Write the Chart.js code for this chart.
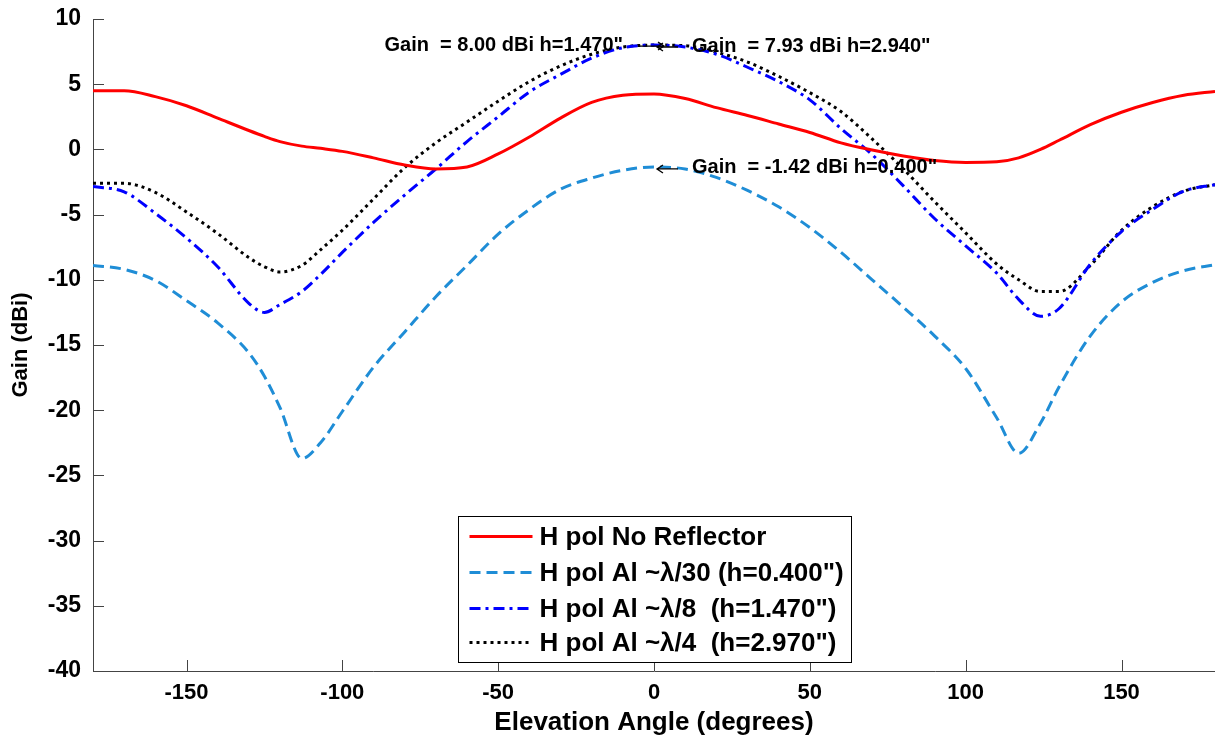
<!DOCTYPE html>
<html>
<head>
<meta charset="utf-8">
<title>Gain vs Elevation Angle</title>
<script src="https://cdn.jsdelivr.net/npm/chart.js@4/dist/chart.umd.min.js"></script>
<style>
  html, body { margin: 0; padding: 0; background: #fff; }
  #gainChart { display: block; }
</style>
</head>
<body>
<canvas id="gainChart" width="1215" height="740"></canvas>
<script>
// elevation angles (degrees) where the curves were read
const angles = [-180, -170, -160, -150, -140, -130, -125, -120, -113, -107, -100, -90,
    -80, -70, -60, -50, -40, -30, -20, -10, 0, 10, 20, 30, 40, 50, 60, 70, 80, 90,
    100, 110, 117, 124, 130, 140, 150, 160, 170, 180];

// gain in dBi for each series
const gainNoReflector = [4.5, 4.5, 4.05, 3.35, 2.4, 1.45, 1.0, 0.6, 0.25, 0.08, -0.15, -0.65,
    -1.2, -1.5, -1.35, -0.35, 0.95, 2.4, 3.6, 4.15, 4.25, 3.9, 3.2, 2.6, 1.95, 1.3, 0.5, -0.05, -0.5, -0.85,
    -1.0, -0.95, -0.65, 0.0, 0.7, 1.9, 2.85, 3.6, 4.15, 4.45];
const gainLambda30 = [-8.9, -9.2, -10.05, -11.6, -13.3, -15.6, -17.4, -19.8, -23.7, -22.5, -20.1, -16.7,
    -14.0, -11.3, -8.9, -6.5, -4.6, -3.05, -2.2, -1.6, -1.35, -1.5, -2.15, -3.15, -4.4, -6.0, -7.9, -10.0, -12.1, -14.3,
    -16.8, -20.6, -23.3, -21.0, -18.2, -14.3, -11.7, -10.2, -9.3, -8.85];
const gainLambda8 = [-2.85, -3.25, -4.9, -6.8, -9.0, -11.8, -12.5, -11.9, -10.9, -9.6, -7.9, -5.6,
    -3.5, -1.5, 0.6, 2.5, 4.4, 5.75, 7.0, 7.8, 8.0, 7.85, 7.3, 6.3, 5.2, 3.8, 1.6, -0.4, -2.8, -5.3,
    -7.4, -9.5, -11.5, -12.8, -12.2, -8.8, -6.3, -4.6, -3.2, -2.7];
const gainLambda4 = [-2.6, -2.6, -3.3, -4.8, -6.45, -8.3, -9.0, -9.4, -8.9, -7.7, -6.2, -3.8,
    -1.4, 0.5, 2.1, 3.7, 5.2, 6.4, 7.3, 7.85, 8.0, 7.95, 7.45, 6.7, 5.6, 4.35, 2.9, 0.8, -1.5, -4.0,
    -6.4, -8.8, -10.0, -10.9, -10.9, -8.9, -6.2, -4.4, -3.2, -2.7];

const seriesLabels = [
    'H pol No Reflector',
    'H pol Al ~λ/30 (h=0.400")',
    'H pol Al ~λ/8  (h=1.470")',
    'H pol Al ~λ/4  (h=2.970")'
];

const xTickValues = [-150, -100, -50, 0, 50, 100, 150];
const yTickValues = [-40, -35, -30, -25, -20, -15, -10, -5, 0, 5, 10];

// data tips placed on the plot
const tipAngles = [0, 0, 0];
const tipGains = [8.00, 7.93, -1.42];
const tipTexts = ['Gain  = 8.00 dBi h=1.470"', 'Gain  = 7.93 dBi h=2.940"', 'Gain  = -1.42 dBi h=0.400"'];
const tipSides = ['left', 'right', 'right'];

const FONT = '"Liberation Sans", Arial, Helvetica, sans-serif';
const AXIS_COLOR = '#444';

const styles = [
    { color: '#ff0000', dash: [] },
    { color: '#1f8dd6', dash: [11, 6] },
    { color: '#0000ff', dash: [11, 5, 3, 5] },
    { color: '#000000', dash: [3, 4] }
];

function toPoints(values) {
    return angles.map((a, i) => ({ x: a, y: values[i] }));
}

const allSeries = [gainNoReflector, gainLambda30, gainLambda8, gainLambda4];

const datasets = allSeries.map((vals, i) => ({
    label: seriesLabels[i],
    data: toPoints(vals),
    borderColor: styles[i].color,
    borderDash: styles[i].dash,
    borderWidth: 3,
    pointRadius: 0,
    fill: false,
    cubicInterpolationMode: 'monotone'
}));

function drawArrow(ctx, x0, x1, yy) {
    // thin arrow from x0 to the head at x1
    const dir = x1 > x0 ? 1 : -1;
    ctx.beginPath();
    ctx.moveTo(x0, yy);
    ctx.lineTo(x1, yy);
    ctx.moveTo(x1 - dir * 6, yy - 4);
    ctx.lineTo(x1, yy);
    ctx.lineTo(x1 - dir * 6, yy + 4);
    ctx.stroke();
}

const decorations = {
    id: 'decorations',
    afterDatasetsDraw(chart) {
        const { ctx, scales: { x, y } } = chart;
        ctx.save();
        ctx.fillStyle = '#000';
        ctx.strokeStyle = '#000';
        ctx.lineWidth = 1.3;
        ctx.setLineDash([]);
        ctx.textBaseline = 'middle';
        ctx.font = 'bold 20px ' + FONT;
        tipTexts.forEach((txt, i) => {
            const px = x.getPixelForValue(tipAngles[i]);
            const py = y.getPixelForValue(tipGains[i]);
            if (tipSides[i] === 'left') {
                ctx.textAlign = 'right';
                ctx.fillText(txt, px - 31, py);
                drawArrow(ctx, px - 14, px + 10, py + 1);
            } else {
                ctx.textAlign = 'left';
                ctx.fillText(txt, px + 38, py);
                drawArrow(ctx, px + 24, px + 3, py + 1);
            }
        });
        ctx.restore();
    },
    afterDraw(chart) {
        const { ctx, chartArea: a, scales: { x, y } } = chart;
        ctx.save();
        // inward tick marks
        ctx.strokeStyle = AXIS_COLOR;
        ctx.lineWidth = 1;
        ctx.setLineDash([]);
        x.ticks.forEach(t => {
            const px = Math.round(x.getPixelForValue(t.value)) + 0.5;
            ctx.beginPath();
            ctx.moveTo(px, a.bottom);
            ctx.lineTo(px, a.bottom - 11);
            ctx.stroke();
        });
        y.ticks.forEach(t => {
            const py = Math.round(y.getPixelForValue(t.value)) + 0.5;
            ctx.beginPath();
            ctx.moveTo(a.left, py);
            ctx.lineTo(a.left + 11, py);
            ctx.stroke();
        });

        // legend box
        const boxW = 393, boxH = 146;
        const bx = Math.round((a.left + a.right) / 2 - boxW / 2) + 0.5;
        const by = Math.round(a.bottom - 9 - boxH) + 0.5;
        ctx.fillStyle = '#fff';
        ctx.fillRect(bx, by, boxW, boxH);
        ctx.strokeStyle = '#000';
        ctx.strokeRect(bx, by, boxW, boxH);
        const rowY = [20, 56, 92, 126];
        ctx.font = 'bold 26px ' + FONT;
        ctx.textAlign = 'left';
        ctx.textBaseline = 'middle';
        seriesLabels.forEach((lbl, i) => {
            const ly = by + rowY[i];
            ctx.strokeStyle = styles[i].color;
            ctx.lineWidth = 3;
            ctx.setLineDash(styles[i].dash);
            ctx.beginPath();
            ctx.moveTo(bx + 11, ly);
            ctx.lineTo(bx + 74, ly);
            ctx.stroke();
            ctx.fillStyle = '#000';
            ctx.fillText(lbl, bx + 81, ly + 1);
        });
        ctx.restore();
    }
};

new Chart(document.getElementById('gainChart'), {
    type: 'line',
    data: { datasets },
    options: {
        responsive: false,
        animation: false,
        layout: { padding: { top: 19, right: 0, left: 0, bottom: 0 } },
        plugins: {
            legend: { display: false },
            tooltip: { enabled: false }
        },
        scales: {
            x: {
                type: 'linear',
                min: -180,
                max: 180,
                afterBuildTicks: s => { s.ticks = xTickValues.map(v => ({ value: v })); },
                afterFit: s => { s.height = 69; s.paddingLeft = 0; s.paddingRight = 0; },
                grid: { display: true, drawOnChartArea: false, drawTicks: false },
                border: { display: true, color: AXIS_COLOR, width: 1 },
                ticks: {
                    color: '#000',
                    padding: 9,
                    maxRotation: 0,
                    font: { family: FONT, size: 22, weight: 'bold' }
                },
                title: {
                    display: true,
                    text: 'Elevation Angle (degrees)',
                    color: '#000',
                    padding: { top: 0, bottom: 2 },
                    font: { family: FONT, size: 26, weight: 'bold' }
                }
            },
            y: {
                min: -40,
                max: 10,
                afterBuildTicks: s => { s.ticks = yTickValues.map(v => ({ value: v })); },
                afterFit: s => { s.width = 93; s.paddingTop = 0; s.paddingBottom = 0; },
                grid: { display: true, drawOnChartArea: false, drawTicks: false },
                border: { display: true, color: AXIS_COLOR, width: 1 },
                ticks: {
                    color: '#000',
                    padding: 12,
                    font: { family: FONT, size: 23, weight: 'bold' }
                },
                title: {
                    display: true,
                    text: 'Gain (dBi)',
                    color: '#000',
                    padding: { top: 8, bottom: 0 },
                    font: { family: FONT, size: 22, weight: 'bold' }
                }
            }
        }
    },
    plugins: [decorations]
});
</script>
</body>
</html>
